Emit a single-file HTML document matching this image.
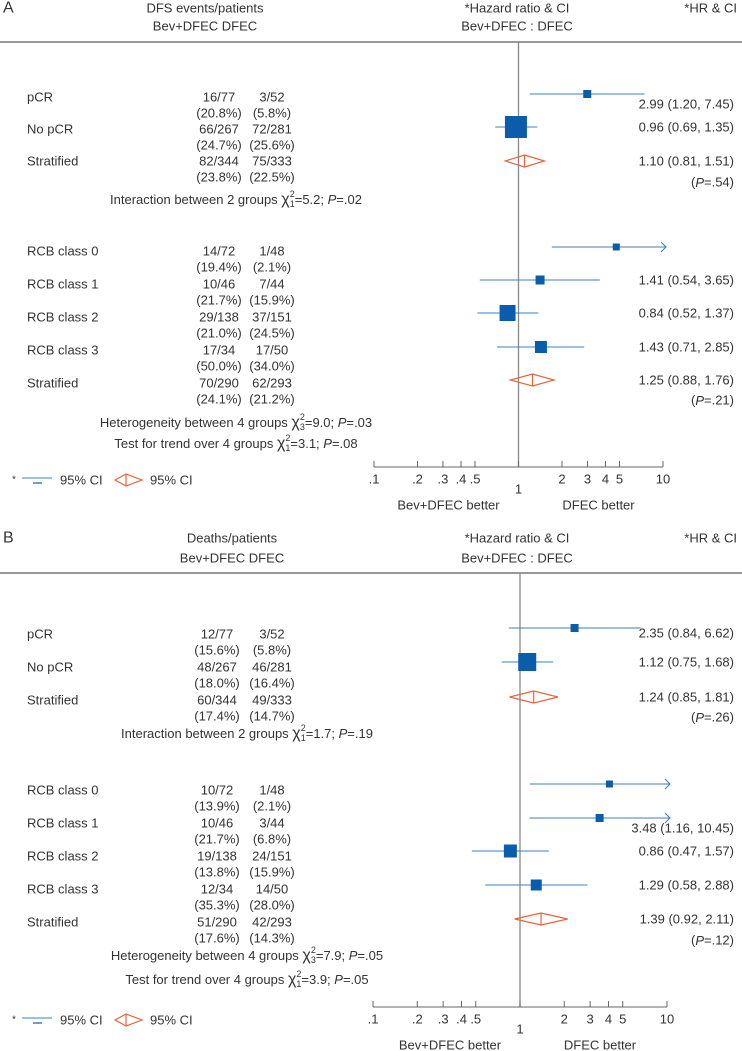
<!DOCTYPE html>
<html><head><meta charset="utf-8"><style>
html,body{margin:0;padding:0;background:#fff;}
svg{display:block;font-family:"Liberation Sans",sans-serif;}
text{fill:#333;font-size:13px;dominant-baseline:central;}
</style></head><body>
<svg id="fig" width="742" height="1051" viewBox="0 0 742 1051"></svg>
<script>
// ---- data ----
const rowLabels = ["pCR","No pCR","Stratified","RCB class 0","RCB class 1","RCB class 2","RCB class 3","Stratified"];
const isPooled = [false,false,true,false,false,false,false,true];
const tickValues = [0.1,0.2,0.3,0.4,0.5,1,2,3,4,5,10];
const tickLabels = [".1",".2",".3",".4",".5","1","2","3","4","5","10"];

const hrA = [2.99,0.96,1.10,4.75,1.41,0.84,1.43,1.25];
const loA = [1.20,0.69,0.81,1.70,0.54,0.52,0.71,0.88];
const hiA = [7.45,1.35,1.51,13,3.65,1.37,2.85,1.76];
const sizeA = [8,22,0,7,9,16,12,0];
const hrTextA = ["2.99 (1.20, 7.45)","0.96 (0.69, 1.35)","1.10 (0.81, 1.51)","","1.41 (0.54, 3.65)","0.84 (0.52, 1.37)","1.43 (0.71, 2.85)","1.25 (0.88, 1.76)"];
const evtA = ["16/77","66/267","82/344","14/72","10/46","29/138","17/34","70/290"];
const evtA2 = ["3/52","72/281","75/333","1/48","7/44","37/151","17/50","62/293"];
const pctA = ["(20.8%)","(24.7%)","(23.8%)","(19.4%)","(21.7%)","(21.0%)","(50.0%)","(24.1%)"];
const pctA2 = ["(5.8%)","(25.6%)","(22.5%)","(2.1%)","(15.9%)","(24.5%)","(34.0%)","(21.2%)"];

const hrB = [2.35,1.12,1.24,4.06,3.48,0.86,1.29,1.39];
const loB = [0.84,0.75,0.85,1.17,1.16,0.47,0.58,0.92];
const hiB = [6.62,1.68,1.81,15,10.45,1.57,2.88,2.11];
const sizeB = [8,18,0,7,8,13,11,0];
const hrTextB = ["2.35 (0.84, 6.62)","1.12 (0.75, 1.68)","1.24 (0.85, 1.81)","","3.48 (1.16, 10.45)","0.86 (0.47, 1.57)","1.29 (0.58, 2.88)","1.39 (0.92, 2.11)"];
const evtB = ["12/77","48/267","60/344","10/72","10/46","19/138","12/34","51/290"];
const evtB2 = ["3/52","46/281","49/333","1/48","3/44","24/151","14/50","42/293"];
const pctB = ["(15.6%)","(18.0%)","(17.4%)","(13.9%)","(21.7%)","(13.8%)","(35.3%)","(17.6%)"];
const pctB2 = ["(5.8%)","(16.4%)","(14.7%)","(2.1%)","(6.8%)","(15.9%)","(28.0%)","(14.3%)"];

const NS="http://www.w3.org/2000/svg";
const svg=document.getElementById('fig');
function el(tag,attrs,txt){const e=document.createElementNS(NS,tag);for(const k in attrs)e.setAttribute(k,attrs[k]);if(txt!==undefined)e.textContent=txt;svg.appendChild(e);return e;}
function txt(x,y,s,anchor,name){const e=el('text',{x:x,y:y,'text-anchor':anchor||'start'},s);


return e;}
function chiText(x,y,pre,sub,val,pv,name){
 const e=el('text',{x:x,y:y,'text-anchor':'middle'});
 
 
 const parts=[[pre,{}],['\u03C7',{'font-size':'16'}],['2',{'font-size':'9','dy':'-5'}],[sub,{'font-size':'9','dx':'-5','dy':'10'}],['='+val+'; ',{'dy':'-5'}],['P',{'font-style':'italic'}],['='+pv,{}]];
 parts.forEach(p=>{const t=document.createElementNS(NS,'tspan');for(const k in p[1])t.setAttribute(k,p[1][k]);t.textContent=p[0];e.appendChild(t);});
}

function panel(cfg){
 const xs=v=>cfg.x1+(Math.log10(v))*cfg.dec;
 txt(3,cfg.head1,cfg.letter,'start','panel-letter').style.fontSize='16px';
 txt(cfg.hcx,cfg.head1,cfg.title,'middle','events-column-title');
 txt(cfg.hcx,cfg.head2,'Bev+DFEC DFEC','middle','arm-column-headers');
 txt(517,cfg.head1,'*Hazard ratio & CI','middle','hazard-ratio-title');
 txt(517,cfg.head2,'Bev+DFEC : DFEC','middle','comparison-subtitle');
 txt(737,cfg.head1,'*HR & CI','end','hr-ci-column-title');
 let r=el('line',{x1:0,x2:742,y1:cfg.rule,y2:cfg.rule,stroke:'#999','stroke-width':2});
 
 let v=el('line',{x1:xs(1),x2:xs(1),y1:cfg.rule,y2:cfg.axisY,stroke:'#888','stroke-width':1.3});
 
 for(let i=0;i<rowLabels.length;i++){
  const ty=cfg.labelY[i], my=cfg.markY[i];
  txt(27,ty,rowLabels[i],'start','row-label');
  txt(cfg.c1,ty,cfg.evt[i],'middle','events-bev');
  txt(cfg.c2,ty,cfg.evt2[i],'middle','events-dfec');
  txt(cfg.c1,ty+16,cfg.pct[i],'middle','pct-bev');
  txt(cfg.c2,ty+16,cfg.pct2[i],'middle','pct-dfec');
  if(cfg.hrText[i]) txt(734,cfg.hrY[i],cfg.hrText[i],'end','hr-value');
  const lo=xs(cfg.lo[i]), hr=xs(cfg.hr[i]);
  if(isPooled[i]){
   const hi=xs(cfg.hi[i]);
   const d=el('polygon',{points:`${lo},${my} ${hr},${my-6} ${hi},${my} ${hr},${my+6}`,fill:'none',stroke:'#e8643c','stroke-width':1.2});
   
   const m=el('line',{x1:hr,x2:hr,y1:my-6,y2:my+6,stroke:'#e8643c','stroke-width':1.2});
   
  } else {
   const arrow=cfg.hi[i]>10;
   const hi=arrow?xs(10)+3:xs(cfg.hi[i]);
   const l=el('line',{x1:lo,x2:hi,y1:my,y2:my,stroke:'#3f7fc2','stroke-width':1.1});
   
   if(arrow){const a=el('polyline',{points:`${hi-5},${my-5} ${hi},${my} ${hi-5},${my+5}`,fill:'none',stroke:'#3f7fc2','stroke-width':1.1});
    }
   const s=cfg.size[i];
   const q=el('rect',{x:hr-s/2,y:my-s/2,width:s,height:s,fill:'#0b5cab'});
   
  }
 }
 const p1=el('text',{x:734,y:cfg.p1Y,'text-anchor':'end'});p1.innerHTML='(<tspan font-style="italic">P</tspan>='+cfg.p1+')';
 
 const p2=el('text',{x:734,y:cfg.p2Y,'text-anchor':'end'});p2.innerHTML='(<tspan font-style="italic">P</tspan>='+cfg.p2+')';
 
 chiText(cfg.tcx,cfg.interY,'Interaction between 2 groups ','1',cfg.chiI[0],cfg.chiI[1],'interaction-test');
 chiText(cfg.tcx,cfg.hetY,'Heterogeneity between 4 groups ','3',cfg.chiH[0],cfg.chiH[1],'heterogeneity-test');
 chiText(cfg.tcx,cfg.trendY,'Test for trend over 4 groups ','1',cfg.chiT[0],cfg.chiT[1],'trend-test');
 const ax=el('line',{x1:xs(0.1),x2:xs(10),y1:cfg.axisY,y2:cfg.axisY,stroke:'#666','stroke-width':1});
 
 tickValues.forEach((t,k)=>{
  const tk=el('line',{x1:xs(t),x2:xs(t),y1:cfg.axisY-6,y2:cfg.axisY,stroke:'#666','stroke-width':1});
  
  txt(xs(t),cfg.axisY+(t===1?22:12),tickLabels[k],'middle','x-tick-label');
 });
 txt(xs(1)-70,cfg.axisY+38,'Bev+DFEC better','middle','favors-bev-label');
 txt(xs(1)+80,cfg.axisY+38,'DFEC better','middle','favors-dfec-label');
 const ly=cfg.axisY+13;
 txt(12,ly,'*','start','legend-asterisk').style.fontSize='10px';
 let g1=el('line',{x1:22,x2:52,y1:ly-2,y2:ly-2,stroke:'#3f7fc2','stroke-width':1.1});
 
 let g2=el('line',{x1:33,x2:42,y1:ly+3,y2:ly+3,stroke:'#3f7fc2','stroke-width':1.5});
 
 txt(60,ly,'95% CI','start','legend-ci-label');
 let g3=el('polygon',{points:`115,${ly} 126,${ly-6} 142,${ly} 126,${ly+6}`,fill:'none',stroke:'#e8643c','stroke-width':1.2});
 
 let g4=el('line',{x1:126,x2:126,y1:ly-6,y2:ly+6,stroke:'#e8643c','stroke-width':1.2});
 
 txt(150,ly,'95% CI','start','legend-diamond-label');
}

panel({letter:'A',title:'DFS events/patients',hcx:205,head1:8,head2:26,rule:42,x1:518.5,dec:144.5,
 c1:219,c2:272,tcx:236,
 labelY:[97,129,161,251,284,317,350,383],markY:[94,127,161,247,280,313,347,380],hrY:[104,127,161,247,280,313,347,380],
 hr:hrA,lo:loA,hi:hiA,size:sizeA,hrText:hrTextA,evt:evtA,evt2:evtA2,pct:pctA,pct2:pctA2,
 p1Y:182,p1:'.54',p2Y:400,p2:'.21',interY:199,hetY:422,trendY:443,axisY:467,
 chiI:['5.2','.02'],chiH:['9.0','.03'],chiT:['3.1','.08']});
panel({letter:'B',title:'Deaths/patients',hcx:232,head1:538,head2:558,rule:573,x1:520,dec:147,
 c1:217,c2:272,tcx:247,
 labelY:[634,667,700,790,823,856,889,922],markY:[628,662,697,784,818,851,885,919],hrY:[633,662,697,784,828,851,885,919],
 hr:hrB,lo:loB,hi:hiB,size:sizeB,hrText:hrTextB,evt:evtB,evt2:evtB2,pct:pctB,pct2:pctB2,
 p1Y:717,p1:'.26',p2Y:940,p2:'.12',interY:733,hetY:955,trendY:979,axisY:1007,
 chiI:['1.7','.19'],chiH:['7.9','.05'],chiT:['3.9','.05']});
</script>
</body></html>
